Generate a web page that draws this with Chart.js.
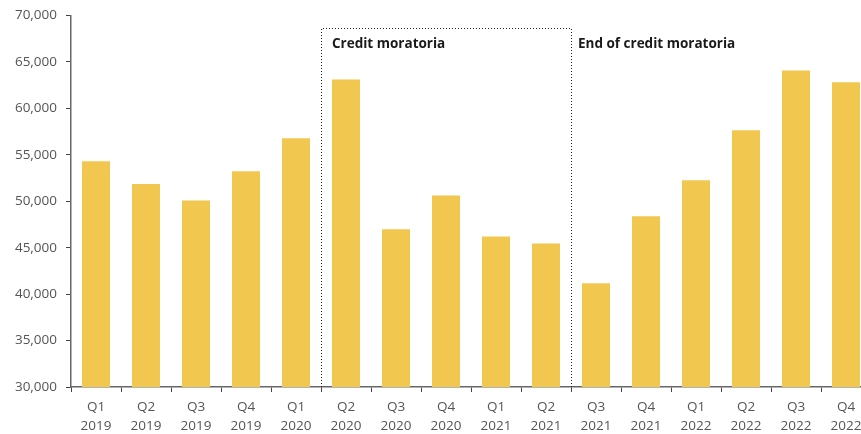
<!DOCTYPE html>
<html>
<head>
<meta charset="utf-8">
<script src="https://cdn.jsdelivr.net/npm/chart.js@4/dist/chart.umd.min.js"></script>
<style>
  html, body { margin: 0; padding: 0; background: #fff; overflow: hidden; }
  #wrap { width: 871px; height: 434px; }
</style>
</head>
<body>
<div id="wrap"><canvas id="loansChart"></canvas></div>
<script>
const quarters = ["Q1", "Q2", "Q3", "Q4", "Q1", "Q2", "Q3", "Q4", "Q1", "Q2", "Q3", "Q4", "Q1", "Q2", "Q3", "Q4"];
const years = ["2019", "2019", "2019", "2019", "2020", "2020", "2020", "2020", "2021", "2021", "2021", "2021", "2022", "2022", "2022", "2022"];
const values = [54300, 51850, 50080, 53240, 56790, 63120, 46990, 50620, 46200, 45450, 41170, 48390, 52270, 57650, 64090, 62820];
const yTicks = [30000, 35000, 40000, 45000, 50000, 55000, 60000, 65000, 70000];

// moratoria period: Q2 2020 .. Q2 2021
const moratoriaFrom = 5;
const moratoriaTo = 9;
const moratoriaTop = 68700;
const moratoriaLabel = "Credit moratoria";
const endLabel = "End of credit moratoria";

const labels = quarters.map((q, i) => [q, years[i]]);

const moratoriaBox = {
  id: "moratoriaBox",
  afterDatasetsDraw(chart) {
    const ctx = chart.ctx;
    const x = chart.scales.x;
    const y = chart.scales.y;
    const step = x.getPixelForValue(1) - x.getPixelForValue(0);
    const left = x.getPixelForValue(moratoriaFrom) - step / 2;
    const right = x.getPixelForValue(moratoriaTo) + step / 2;
    const top = y.getPixelForValue(moratoriaTop);
    const bottom = y.getPixelForValue(30000);

    ctx.save();
    ctx.strokeStyle = "#222";
    ctx.lineWidth = 1;
    ctx.setLineDash([1, 2]);
    ctx.beginPath();
    ctx.moveTo(Math.round(left) + 0.5, bottom);
    ctx.lineTo(Math.round(left) + 0.5, Math.round(top) + 0.5);
    ctx.lineTo(Math.round(right) + 0.5, Math.round(top) + 0.5);
    ctx.lineTo(Math.round(right) + 0.5, bottom);
    ctx.stroke();
    ctx.setLineDash([]);

    ctx.fillStyle = "#1a1a1a";
    ctx.font = "bold 13.5px 'Open Sans'";
    ctx.textAlign = "left";
    ctx.textBaseline = "middle";
    ctx.fillText(moratoriaLabel, left + 11, top + 17);
    ctx.fillText(endLabel, right + 7, top + 17);
    ctx.restore();
  },
};

const ctx = document.getElementById("loansChart").getContext("2d");
new Chart(ctx, {
  type: "bar",
  data: {
    labels: labels,
    datasets: [
      {
        data: values,
        backgroundColor: "#F2C750",
        borderWidth: 0,
        barPercentage: 0.56,
        categoryPercentage: 1,
      },
    ],
  },
  options: {
    responsive: true,
    maintainAspectRatio: false,
    animation: false,
    layout: {
      padding: { top: 15.5, right: 0, bottom: 0, left: 0 },
    },
    plugins: {
      legend: { display: false },
      tooltip: { enabled: false },
    },
    scales: {
      x: {
        offset: true,
        border: { color: "#666", width: 1.5 },
        grid: {
          offset: true,
          drawOnChartArea: false,
          drawTicks: true,
          tickLength: 5,
          color: "#444",
        },
        ticks: {
          color: "#555",
          padding: 5,
          maxRotation: 0,
          autoSkip: false,
          font: { family: "'Open Sans'", size: 13.5, lineHeight: 1.45 },
        },
        afterFit(scale) {
          scale.height = 47;
        },
      },
      y: {
        min: 30000,
        max: 70000,
        border: { color: "#666", width: 1.5 },
        grid: {
          drawOnChartArea: false,
          drawTicks: true,
          tickLength: 5,
          color: "#444",
        },
        afterBuildTicks(scale) {
          scale.ticks = yTicks.map((v) => ({ value: v }));
        },
        ticks: {
          color: "#555",
          padding: 9,
          font: { family: "'Open Sans'", size: 13.5 },
          callback: (v) => v.toLocaleString("en-US"),
        },
        afterFit(scale) {
          scale.width = 71;
          scale.paddingTop = 0;
          scale.paddingBottom = 0;
        },
      },
    },
  },
  plugins: [moratoriaBox],
});
</script>
</body>
</html>
